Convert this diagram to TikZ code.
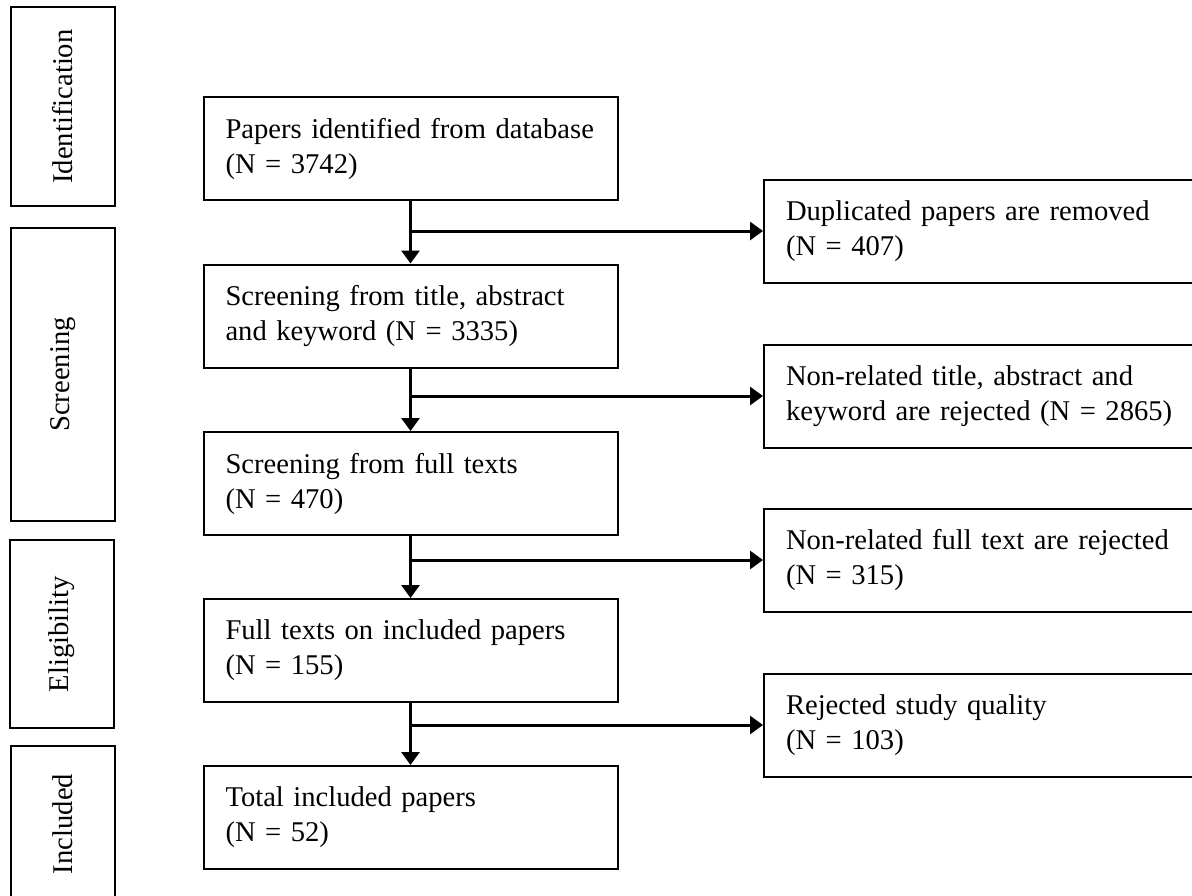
\documentclass[tikz,border=0pt]{standalone}
\usepackage{fontspec}
\setmainfont{Liberation Serif}
\usetikzlibrary{arrows.meta}

\begin{document}
\begin{tikzpicture}[x=0.5pt, y=-0.5pt, line width=1pt,
    font=\fontsize{14.3}{17.5}\selectfont,
    box/.style={draw, align=left, text width=185pt, inner xsep=11pt, minimum height=51.5pt},
    outbox/.style={draw, align=left, text width=203pt, inner xsep=11pt, minimum height=51.5pt, anchor=west},
    stage/.style={draw, rotate=90, minimum height=52pt},
    arr/.style={line width=1.5pt, -{Triangle[length=6.5pt, width=9pt]}}]
      \useasboundingbox (0, 0) rectangle (1192, 895);

      \node [stage, minimum width=99.5pt] (stageId) at (63, 106.5) {Identification};
      \node [stage, minimum width=146.5pt] (stageScr) at (63, 374.5) {Screening};
      \node [stage, minimum width=94pt] (stageElig) at (62, 634) {Eligibility};
      \node [stage, minimum width=78pt] (stageIncl) at (63, 824) {Included};

      \node [box] (papers) at (410.5, 148.5) {Papers identified from database\\(N = 3742)};
      \node [box] (screen) at (410.5, 316) {Screening from title, abstract\\and keyword (N = 3335)};
      \node [box] (fulltext) at (410.5, 483.5) {Screening from full texts\\(N = 470)};
      \node [box] (included) at (410.5, 650.5) {Full texts on included papers\\(N = 155)};
      \node [box] (total) at (410.5, 817.5) {Total included papers\\(N = 52)};

      \node [outbox] (dup) at (763, 231) {Duplicated papers are removed\\(N = 407)};
      \node [outbox] (rejTitle) at (763, 396) {Non-related title, abstract and\\keyword are rejected (N = 2865)};
      \node [outbox] (rejFull) at (763, 560) {Non-related full text are rejected\\(N = 315)};
      \node [outbox] (rejQual) at (763, 725) {Rejected study quality\\(N = 103)};

      \draw [arr] (papers) -- (screen);
      \draw [arr] (screen) -- (fulltext);
      \draw [arr] (fulltext) -- (included);
      \draw [arr] (included) -- (total);

      \draw [arr] (papers |- dup) -- (dup);
      \draw [arr] (screen |- rejTitle) -- (rejTitle);
      \draw [arr] (fulltext |- rejFull) -- (rejFull);
      \draw [arr] (included |- rejQual) -- (rejQual);
    \end{tikzpicture}
\end{document}
